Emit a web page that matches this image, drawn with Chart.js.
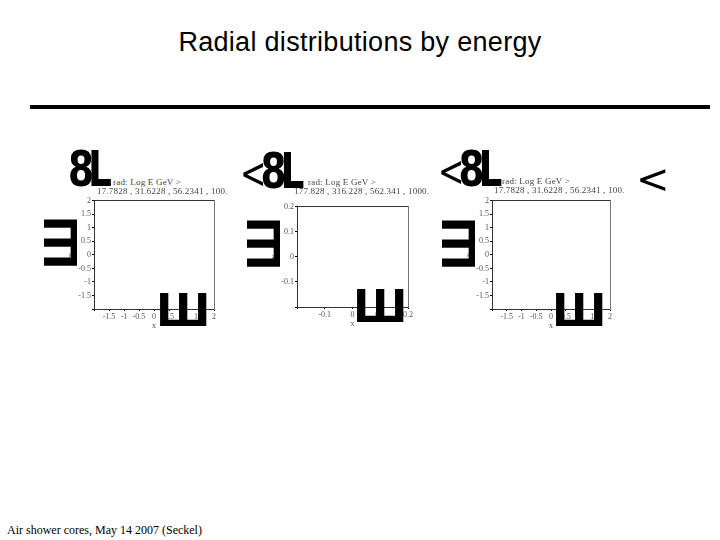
<!DOCTYPE html>
<html>
<head>
<meta charset="utf-8">
<script src="https://cdn.jsdelivr.net/npm/chart.js@4.4.1/dist/chart.umd.min.js"></script>
<style>
  body { margin: 0; background: #fff; }
  #slide { position: relative; width: 720px; height: 540px; overflow: hidden; background: #fff; }
  .abs { position: absolute; white-space: nowrap; }
  #title { left: 0; width: 720px; top: 27px; text-align: center; font: 27px "Liberation Sans", Arial, sans-serif; letter-spacing: 0.3px; color: #000; }
  #rule { left: 30px; top: 105px; width: 680px; height: 4px; background: #000; }
  #footer { left: 7px; top: 523px; font: 12px "Liberation Serif", "Times New Roman", serif; color: #000; }
  .cap { font: 9px "Liberation Serif", serif; letter-spacing: 0.2px; line-height: 1; color: #444; }
  .glyph { font: bold 50px "DejaVu Sans", sans-serif; color: #000; line-height: 0.8; transform-origin: 0 0; }
  .glyph span { font-weight: normal; font-size: 42px; }
  .sq { font: bold 44px "DejaVu Sans", sans-serif; color: #000; line-height: 0.8; }
  .lt { font: 40px "DejaVu Sans", sans-serif; color: #000; line-height: 0.8; }
  canvas { position: absolute; }
</style>
</head>
<body>
<div id="slide">
  <div id="title" class="abs">Radial distributions by energy</div>
  <div id="rule" class="abs"></div>

  <canvas id="p1" width="152" height="136" style="left:66px;top:195px"></canvas>
  <canvas id="p2" width="145" height="128" style="left:269px;top:201px"></canvas>
  <canvas id="p3" width="150" height="136" style="left:464px;top:195px"></canvas>

  <div id="footer" class="abs">Air shower cores, May 14 2007 (Seckel)</div>
</div>
<script>
// energy bins shown above each panel (GeV)
const energies1 = ["17.7828", "31.6228", "56.2341", "100."];
const energies2 = ["177.828", "316.228", "562.341", "1000."];
const energies3 = ["17.7828", "31.6228", "56.2341", "100."];

// axis ranges and ticks
const xRange1 = [-2, 2];
const yRange1 = [-2, 2];
const ticks1 = [-2, -1.5, -1, -0.5, 0, 0.5, 1, 1.5, 2];
const xRange2 = [-0.2, 0.2];
const yRange2 = [-0.2, 0.2];
const ticks2 = [-0.2, -0.1, 0, 0.1, 0.2];

// the panels hold no points in the picture
const points1 = [];
const points2 = [];
const points3 = [];

const axisLabel = "rad: Log E GeV >";

const tickFont = { family: "Liberation Serif", size: 8 };

function addText(cls, html, left, top, extra) {
  const d = document.createElement("div");
  d.className = "abs " + cls;
  d.innerHTML = html;
  d.style.left = left + "px";
  d.style.top = top + "px";
  if (extra) Object.assign(d.style, extra);
  document.getElementById("slide").appendChild(d);
}

function makePanel(id, points, xr, yr, tks, edges) {
  const lbl = (min) => (v) => (v === min ? "" : String(v));
  new Chart(document.getElementById(id), {
    type: "scatter",
    data: { datasets: [{ data: points, pointRadius: 1, backgroundColor: "#000" }] },
    options: {
      responsive: false,
      animation: false,
      layout: { padding: { top: 2, right: 4 } },
      plugins: { legend: { display: false }, tooltip: { enabled: false } },
      scales: {
        x: {
          type: "linear", position: "bottom", min: xr[0], max: xr[1],
          afterBuildTicks: s => { s.ticks = tks.map(v => ({ value: v })); },
          afterFit: s => { s.height = 22; },
          grid: { drawOnChartArea: false, tickLength: 2, color: "#000" },
          border: { color: "#333", dash: edges.bottom },
          ticks: { font: tickFont, color: "#555", padding: 1, maxRotation: 0, autoSkip: false, callback: lbl(xr[0]) },
          title: { display: true, text: "x", font: tickFont, color: "#555", padding: 0 }
        },
        y: {
          type: "linear", position: "left", min: yr[0], max: yr[1],
          afterBuildTicks: s => { s.ticks = tks.map(v => ({ value: v })); },
          afterFit: s => { s.width = 28; },
          grid: { drawOnChartArea: false, tickLength: 2, color: "#000" },
          border: { color: "#333" },
          ticks: { font: tickFont, color: "#555", padding: 1, autoSkip: false, callback: lbl(yr[0]) },
          title: { display: true, text: "y", font: tickFont, color: "#555", padding: 0 }
        },
        xTop: {
          type: "linear", position: "top", min: xr[0], max: xr[1],
          afterFit: s => { s.height = 0; },
          grid: { drawOnChartArea: false, drawTicks: false },
          border: { color: "#333", dash: [1, 2] },
          ticks: { display: false }
        },
        yRight: {
          type: "linear", position: "right", min: yr[0], max: yr[1],
          afterFit: s => { s.width = 0; },
          grid: { drawOnChartArea: false, drawTicks: false },
          border: { color: "#777", dash: edges.right },
          ticks: { display: false }
        }
      }
    }
  });
}

makePanel("p1", points1, xRange1, yRange1, ticks1, { bottom: [1, 2], right: [1, 3] });
makePanel("p2", points2, xRange2, yRange2, ticks2, { bottom: [], right: [] });
makePanel("p3", points3, xRange1, yRange1, ticks1, { bottom: [1, 2], right: [] });

// captions above the panels
addText("cap", axisLabel, 113, 178);
addText("cap", energies1.join(" , "), 97, 187);
addText("cap", axisLabel, 308, 178);
addText("cap", energies2.join(" , "), 294, 187);
addText("cap", axisLabel, 502, 177);
addText("cap", energies3.join(" , "), 494, 186);

// stray symbol-font glyphs on the slide
const sq = { transform: "scaleX(0.75)", letterSpacing: "-8px" };
addText("glyph", "8L", 68, 149, sq);
addText("glyph", "<span>&lt;</span>8L", 240, 151, sq);
addText("glyph", "<span>&lt;</span>8L", 438, 149, sq);
addText("lt", "&lt;", 636, 163);
[[34, 225], [237, 226], [432, 226]].forEach(p => addText("sq", "Ш", p[0], p[1], { transform: "rotate(-90deg)" }));
[[156, 293], [353, 289], [552, 293]].forEach(p => addText("sq", "Ш", p[0], p[1]));
</script>
</body>
</html>
